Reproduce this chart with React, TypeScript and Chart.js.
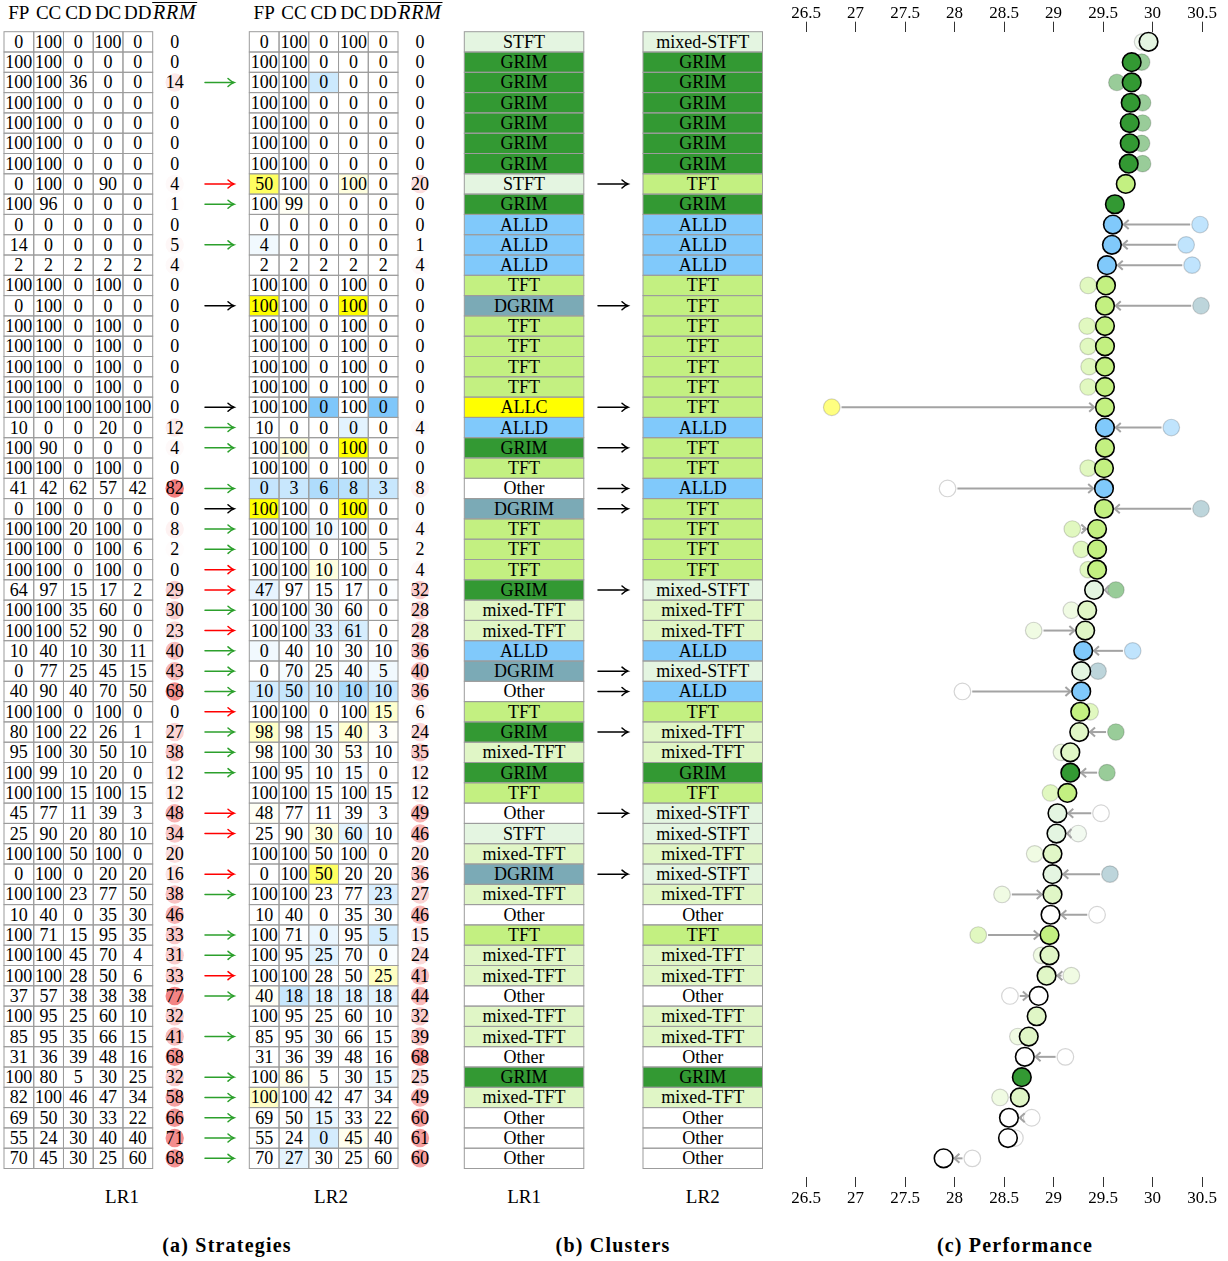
import React, { useEffect, useRef } from "react";
import { Chart, registerables } from "chart.js";

Chart.register(...registerables);

// ---------------- data ----------------
const strategyHeaders = ["FP", "CC", "CD", "DC", "DD"];

const lr1FP = [0,100,100,100,100,100,100,0,100,0, 14,2,100,0,100,100,100,100,100,10, 100,100,41,0,100,100,100,64,100,100, 10,0,40,100,80,95,100,100,45,25, 100,0,100,10,100,100,100,37,100,85, 31,100,82,69,55,70];
const lr1CC = [100,100,100,100,100,100,100,100,96,0, 0,2,100,100,100,100,100,100,100,0, 90,100,42,100,100,100,100,97,100,100, 40,77,90,100,100,100,99,100,77,90, 100,100,100,40,71,100,100,57,95,95, 36,80,100,50,24,45];
const lr1CD = [0,0,36,0,0,0,0,0,0,0, 0,2,0,0,0,0,0,0,100,0, 0,0,62,0,20,0,0,15,35,52, 10,25,40,0,22,30,10,15,11,20, 50,0,23,0,15,45,28,38,25,35, 39,5,46,30,30,30];
const lr1DC = [100,0,0,0,0,0,0,90,0,0, 0,2,100,0,100,100,100,100,100,20, 0,100,57,0,100,100,100,17,60,90, 30,45,70,100,26,50,20,100,39,80, 100,20,77,35,95,70,50,38,60,66, 48,30,47,33,40,25];
const lr1DD = [0,0,0,0,0,0,0,0,0,0, 0,2,0,0,0,0,0,0,100,0, 0,0,42,0,0,6,0,2,0,0, 11,15,50,0,1,10,0,15,3,10, 0,20,50,30,35,4,6,38,10,15, 16,25,34,22,40,60];
const lr1RRM = [0,0,14,0,0,0,0,4,1,0, 5,4,0,0,0,0,0,0,0,12, 4,0,82,0,8,2,0,29,30,23, 40,43,68,0,27,38,12,12,48,34, 20,16,38,46,33,31,33,77,32,41, 68,32,58,66,71,68];

const lr2FP = [0,100,100,100,100,100,100,50,100,0, 4,2,100,100,100,100,100,100,100,10, 100,100,0,100,100,100,100,47,100,100, 0,0,10,100,98,98,100,100,48,25, 100,0,100,10,100,100,100,40,100,85, 31,100,100,69,55,70];
const lr2CC = [100,100,100,100,100,100,100,100,99,0, 0,2,100,100,100,100,100,100,100,0, 100,100,3,100,100,100,100,97,100,100, 40,70,50,100,98,100,95,100,77,90, 100,100,100,40,71,95,100,18,95,95, 36,86,100,50,24,27];
const lr2CD = [0,0,0,0,0,0,0,0,0,0, 0,2,0,0,0,0,0,0,0,0, 0,0,6,0,10,0,10,15,30,33, 10,25,10,0,15,30,10,15,11,30, 50,50,23,0,0,25,28,18,25,30, 39,5,42,15,0,30];
const lr2DC = [100,0,0,0,0,0,0,100,0,0, 0,2,100,100,100,100,100,100,100,0, 100,100,8,100,100,100,100,17,60,61, 30,40,10,100,40,53,15,100,39,60, 100,20,77,35,95,70,50,18,60,66, 48,30,47,33,45,25];
const lr2DD = [0,0,0,0,0,0,0,0,0,0, 0,2,0,0,0,0,0,0,0,0, 0,0,3,0,0,5,0,0,0,0, 10,5,10,15,3,10,0,15,3,10, 0,20,23,30,5,0,25,18,10,15, 16,15,34,22,40,60];
const lr2RRM = [0,0,0,0,0,0,0,20,0,0, 1,4,0,0,0,0,0,0,0,4, 0,0,8,0,4,2,4,32,28,28, 36,40,36,6,24,35,12,12,49,46, 20,36,27,46,15,24,41,44,32,39, 68,25,49,60,61,60];

// g = green, r = red, k = black, "" = none
const strategyArrows = ["","","g","","","","","r","g","", "g","","","k","","","","","k","g", "g","","g","k","g","g","r","r","g","r", "g","g","g","r","g","g","g","","r","r", "","r","g","","g","g","r","g","","g", "","g","g","g","g","g"];

const clustersLR1 = ["STFT","GRIM","GRIM","GRIM","GRIM","GRIM","GRIM","STFT","GRIM","ALLD", "ALLD","ALLD","TFT","DGRIM","TFT","TFT","TFT","TFT","ALLC","ALLD", "GRIM","TFT","Other","DGRIM","TFT","TFT","TFT","GRIM","mixed-TFT","mixed-TFT", "ALLD","DGRIM","Other","TFT","GRIM","mixed-TFT","GRIM","TFT","Other","STFT", "mixed-TFT","DGRIM","mixed-TFT","Other","TFT","mixed-TFT","mixed-TFT","Other","mixed-TFT","mixed-TFT", "Other","GRIM","mixed-TFT","Other","Other","Other"];
const clustersLR2 = ["mixed-STFT","GRIM","GRIM","GRIM","GRIM","GRIM","GRIM","TFT","GRIM","ALLD", "ALLD","ALLD","TFT","TFT","TFT","TFT","TFT","TFT","TFT","ALLD", "TFT","TFT","ALLD","TFT","TFT","TFT","TFT","mixed-STFT","mixed-TFT","mixed-TFT", "ALLD","mixed-STFT","ALLD","TFT","mixed-TFT","mixed-TFT","GRIM","TFT","mixed-STFT","mixed-STFT", "mixed-TFT","mixed-STFT","mixed-TFT","Other","TFT","mixed-TFT","mixed-TFT","Other","mixed-TFT","mixed-TFT", "Other","GRIM","mixed-TFT","Other","Other","Other"];
const clusterChangeRows = [8, 14, 19, 21, 23, 24, 28, 32, 33, 35, 39, 42];

const perfLR1 = [29.90,29.89,29.64,29.90,29.90,29.89,29.90,29.72,29.62,30.48, 30.34,30.40,29.35,30.49,29.34,29.35,29.36,29.35,26.76,30.19, 29.51,29.35,27.93,30.49,29.19,29.28,29.35,29.63,29.18,28.80, 29.80,29.45,28.08,29.37,29.63,29.08,29.54,28.97,29.48,29.25, 28.81,29.57,28.48,29.44,28.24,28.88,29.18,28.56,28.83,28.64, 29.12,28.68,28.46,28.78,28.61,28.18];
const perfLR2 = [29.96,29.79,29.79,29.78,29.77,29.77,29.76,29.73,29.62,29.60, 29.59,29.54,29.53,29.52,29.52,29.52,29.52,29.52,29.52,29.52, 29.52,29.51,29.51,29.51,29.44,29.44,29.44,29.41,29.34,29.32, 29.30,29.28,29.28,29.27,29.26,29.17,29.17,29.14,29.04,29.03, 28.99,28.99,28.99,28.97,28.96,28.96,28.93,28.85,28.83,28.75, 28.71,28.68,28.66,28.55,28.54,27.89];

const perfTickMin = 26.5;
const perfTickMax = 30.5;
const perfTickStep = 0.5;

const tableLabels = ["LR1", "LR2"];
const panelCaptions = ["(a) Strategies", "(b) Clusters", "(c) Performance"];

// ---------------- styles / layout ----------------
const FONT = "'Liberation Serif', 'Times New Roman', serif";
const CLUSTER_COLORS: Record<string, string> = {
  STFT: "#e4f5e1",
  "mixed-STFT": "#e4f5e1",
  GRIM: "#339933",
  ALLD: "#80c9fb",
  TFT: "#c3f081",
  "mixed-TFT": "#e0f6c6",
  DGRIM: "#7baab6",
  ALLC: "#ffff00",
  Other: "#ffffff",
};

const W = 1228;
const H = 1261;
const ROW_TOP = 31.7;
const ROW_H = 20.3;
const CELL_W = 29.74;
const TABLE_X = [4, 249.3];
const RRM_GAP = 22;
const STRAT_ARROW = [205, 234];
const CLUSTER_X = [464.3, 643];
const CLUSTER_W = 119.5;
const CLUSTER_ARROW = [598, 628];
const PERF_LEFT = 780;
const PERF_AREA_LEFT = 806;
const PERF_AREA_RIGHT = 1202;
const PERF_BOTTOM = 1177;
const R_LR1 = 8.3;
const R_LR2 = 9.3;

const NROWS = perfLR2.length;
const rowCenter = (i: number) => ROW_TOP + (i + 0.5) * ROW_H;

function hexToRgb(h: string): [number, number, number] {
  const n = parseInt(h.slice(1), 16);
  return [(n >> 16) & 255, (n >> 8) & 255, n & 255];
}
function mixWhite(rgb: [number, number, number], t: number) {
  const c = Math.max(0, Math.min(1, t));
  const f = (v: number) => Math.round(255 + (v - 255) * c);
  return `rgb(${f(rgb[0])},${f(rgb[1])},${f(rgb[2])})`;
}
function cellColor(before: number, after: number) {
  const d = after - before;
  if (d > 0) return mixWhite([255, 255, 0], d / 80);
  if (d < 0) return mixWhite([127, 199, 250], -d / 90);
  return "#ffffff";
}
function rrmColor(v: number) {
  return mixWhite([239, 95, 95], v / 100);
}

function Arrow({ x1, x2, y, color }: { x1: number; x2: number; y: number; color: string }) {
  return (
    <g stroke={color} strokeWidth={1.5} fill="none" strokeLinecap="round">
      <line x1={x1} y1={y} x2={x2 - 0.6} y2={y} />
      <path d={`M${x2 - 6} ${y - 4} Q${x2 - 2.5} ${y - 0.8} ${x2} ${y} Q${x2 - 2.5} ${y + 0.8} ${x2 - 6} ${y + 4}`} />
    </g>
  );
}

function StrategyTable({ x0, cols, rrm, before }: { x0: number; cols: number[][]; rrm: number[]; before?: number[][] }) {
  const fills: React.ReactNode[] = [];
  const strokes: React.ReactNode[] = [];
  const texts: React.ReactNode[] = [];
  const rrmX = x0 + 5 * CELL_W + RRM_GAP;
  strategyHeaders.forEach((h, j) => {
    texts.push(
      <text key={`h${j}`} x={x0 + (j + 0.5) * CELL_W} y={18.5} textAnchor="middle" fontSize={19}>
        {h}
      </text>
    );
  });
  texts.push(
    <text key="hr" x={rrmX} y={18.5} textAnchor="middle" fontSize={20} fontStyle="italic" letterSpacing={0.8}>
      RRM
    </text>
  );
  strokes.push(<line key="ol" x1={rrmX - 22.5} x2={rrmX + 22.5} y1={2.5} y2={2.5} stroke="#000" strokeWidth={1} />);
  for (let i = 0; i < NROWS; i++) {
    const y = ROW_TOP + i * ROW_H;
    const cy = rowCenter(i);
    for (let j = 0; j < 5; j++) {
      const x = x0 + j * CELL_W;
      const v = cols[j][i];
      const fill = before ? cellColor(before[j][i], v) : "#ffffff";
      fills.push(<rect key={`f${i}-${j}`} x={x} y={y} width={CELL_W} height={ROW_H} fill={fill} />);
      strokes.push(
        <rect key={`s${i}-${j}`} x={x} y={y} width={CELL_W} height={ROW_H} fill="none" stroke="#9c9c9c" strokeWidth={1} />
      );
      texts.push(
        <text key={`t${i}-${j}`} x={x + CELL_W / 2} y={cy + 6} textAnchor="middle" fontSize={18}>
          {v}
        </text>
      );
    }
    if (rrm[i] > 0) {
      fills.push(<circle key={`c${i}`} cx={rrmX} cy={cy} r={9.2} fill={rrmColor(rrm[i])} />);
    }
    texts.push(
      <text key={`r${i}`} x={rrmX} y={cy + 6} textAnchor="middle" fontSize={18}>
        {rrm[i]}
      </text>
    );
  }
  return (
    <g>
      {fills}
      {strokes}
      {texts}
    </g>
  );
}

function ClusterColumn({ x0, names }: { x0: number; names: string[] }) {
  return (
    <g>
      {names.map((n, i) => (
        <rect key={`f${i}`} x={x0} y={ROW_TOP + i * ROW_H} width={CLUSTER_W} height={ROW_H} fill={CLUSTER_COLORS[n]} />
      ))}
      {names.map((n, i) => (
        <rect key={`s${i}`} x={x0} y={ROW_TOP + i * ROW_H} width={CLUSTER_W} height={ROW_H} fill="none" stroke="#9c9c9c" strokeWidth={1} />
      ))}
      {names.map((n, i) => (
        <text key={`t${i}`} x={x0 + CLUSTER_W / 2} y={rowCenter(i) + 6} textAnchor="middle" fontSize={18}>
          {n}
        </text>
      ))}
    </g>
  );
}

const arrowPlugin = {
  id: "moveArrows",
  afterDatasetDraw(chart: any, args: any) {
    if (args.index !== 1) return;
    const { ctx } = chart;
    const xs = chart.scales.x;
    const ys = chart.scales.y;
    ctx.save();
    ctx.strokeStyle = "#a3a3a3";
    ctx.lineWidth = 2;
    ctx.lineCap = "butt";
    ctx.lineJoin = "miter";
    perfLR1.forEach((v1, i) => {
      const p1 = xs.getPixelForValue(v1);
      const p2 = xs.getPixelForValue(perfLR2[i]);
      const py = ys.getPixelForValue(i + 1);
      const dist = Math.abs(p2 - p1);
      if (dist < R_LR1 + R_LR2 + 3.2) return;
      const dir = Math.sign(p2 - p1);
      const sx = p1 + dir * (R_LR1 + 1.5);
      const ex = p2 - dir * (R_LR2 + 1.5);
      ctx.beginPath();
      ctx.moveTo(sx, py);
      ctx.lineTo(ex, py);
      ctx.stroke();
      const hl = Math.min(5, Math.abs(ex - sx) + 3);
      ctx.beginPath();
      ctx.moveTo(ex - dir * hl, py - 4.5);
      ctx.lineTo(ex, py);
      ctx.lineTo(ex - dir * hl, py + 4.5);
      ctx.stroke();
    });
    ctx.restore();
  },
};

export default function App() {
  const canvasRef = useRef<HTMLCanvasElement>(null);

  useEffect(() => {
    const fadedLR1 = clustersLR1.map((c) => mixWhite(hexToRgb(CLUSTER_COLORS[c]), 0.5));
    const lr2Colors = clustersLR2.map((c) => CLUSTER_COLORS[c]);
    const axisCommon = {
      type: "linear" as const,
      min: perfTickMin,
      max: perfTickMax,
      grid: { drawOnChartArea: false, drawTicks: true, tickLength: 10, color: "#333", lineWidth: 1 },
      border: { display: false },
    };
    const tickCommon = {
      stepSize: perfTickStep,
      color: "#000",
      font: { family: FONT, size: 17 },
      maxRotation: 0,
      autoSkip: false,
      callback: (v: any) => String(Number(v)),
    };
    const chart = new Chart(canvasRef.current as HTMLCanvasElement, {
      type: "scatter",
      data: {
        datasets: [
          {
            label: "LR2",
            data: perfLR2.map((v, i) => ({ x: v, y: i + 1 })),
            backgroundColor: lr2Colors,
            borderColor: "#000",
            borderWidth: 1.6,
            pointRadius: R_LR2,
            pointHoverRadius: R_LR2,
            order: 0,
            clip: false,
          },
          {
            label: "LR1",
            data: perfLR1.map((v, i) => ({ x: v, y: i + 1 })),
            backgroundColor: fadedLR1,
            borderColor: "rgba(0,0,0,0.17)",
            borderWidth: 1.2,
            pointRadius: R_LR1,
            pointHoverRadius: R_LR1,
            order: 1,
            clip: false,
          },
        ],
      },
      options: {
        animation: false,
        responsive: false,
        maintainAspectRatio: false,
        devicePixelRatio: 1,
        layout: {
          padding: {
            left: PERF_AREA_LEFT - PERF_LEFT,
            right: W - PERF_AREA_RIGHT,
            top: 0,
            bottom: 0,
          },
        },
        plugins: { legend: { display: false }, tooltip: { enabled: false } },
        scales: {
          x: {
            ...axisCommon,
            position: "top",
            ticks: { ...tickCommon, padding: -2 },
            afterFit: (s: any) => {
              s.height = ROW_TOP;
            },
          },
          xb: {
            ...axisCommon,
            position: "bottom",
            ticks: { ...tickCommon, padding: 1 },
            afterFit: (s: any) => {
              s.height = H - PERF_BOTTOM;
            },
          },
          y: {
            type: "linear",
            display: false,
            reverse: true,
            min: 0.5,
            max: 0.5 + (PERF_BOTTOM - ROW_TOP) / ROW_H,
          },
        },
      } as any,
      plugins: [arrowPlugin],
    });
    return () => chart.destroy();
  }, []);

  const lr1Cols = [lr1FP, lr1CC, lr1CD, lr1DC, lr1DD];
  const lr2Cols = [lr2FP, lr2CC, lr2CD, lr2DC, lr2DD];
  const arrowColor: Record<string, string> = { g: "#2ca02c", r: "#ff0000", k: "#000000" };

  return (
    <div style={{ position: "absolute", left: 0, top: 0, width: W, height: H, background: "#fff", fontFamily: FONT }}>
      <svg width={W} height={H} style={{ position: "absolute", left: 0, top: 0 }} fontFamily={FONT} fill="#000">
        <StrategyTable x0={TABLE_X[0]} cols={lr1Cols} rrm={lr1RRM} />
        <StrategyTable x0={TABLE_X[1]} cols={lr2Cols} rrm={lr2RRM} before={lr1Cols} />
        {strategyArrows.map((a, i) =>
          a ? <Arrow key={`sa${i}`} x1={STRAT_ARROW[0]} x2={STRAT_ARROW[1]} y={rowCenter(i)} color={arrowColor[a]} /> : null
        )}
        <ClusterColumn x0={CLUSTER_X[0]} names={clustersLR1} />
        <ClusterColumn x0={CLUSTER_X[1]} names={clustersLR2} />
        {clusterChangeRows.map((r) => (
          <Arrow key={`ca${r}`} x1={CLUSTER_ARROW[0]} x2={CLUSTER_ARROW[1]} y={rowCenter(r - 1)} color="#000" />
        ))}
        <text x={122} y={1203} textAnchor="middle" fontSize={19}>{tableLabels[0]}</text>
        <text x={331} y={1203} textAnchor="middle" fontSize={19}>{tableLabels[1]}</text>
        <text x={CLUSTER_X[0] + CLUSTER_W / 2} y={1203} textAnchor="middle" fontSize={19}>{tableLabels[0]}</text>
        <text x={CLUSTER_X[1] + CLUSTER_W / 2} y={1203} textAnchor="middle" fontSize={19}>{tableLabels[1]}</text>
        <text x={227} y={1252} textAnchor="middle" fontSize={20} fontWeight="bold" letterSpacing={1.2}>{panelCaptions[0]}</text>
        <text x={613} y={1252} textAnchor="middle" fontSize={20} fontWeight="bold" letterSpacing={1.2}>{panelCaptions[1]}</text>
        <text x={1015} y={1252} textAnchor="middle" fontSize={20} fontWeight="bold" letterSpacing={1.2}>{panelCaptions[2]}</text>
      </svg>
      <canvas
        ref={canvasRef}
        width={W - PERF_LEFT}
        height={H}
        style={{ position: "absolute", left: PERF_LEFT, top: 0, width: W - PERF_LEFT, height: H }}
      />
    </div>
  );
}
